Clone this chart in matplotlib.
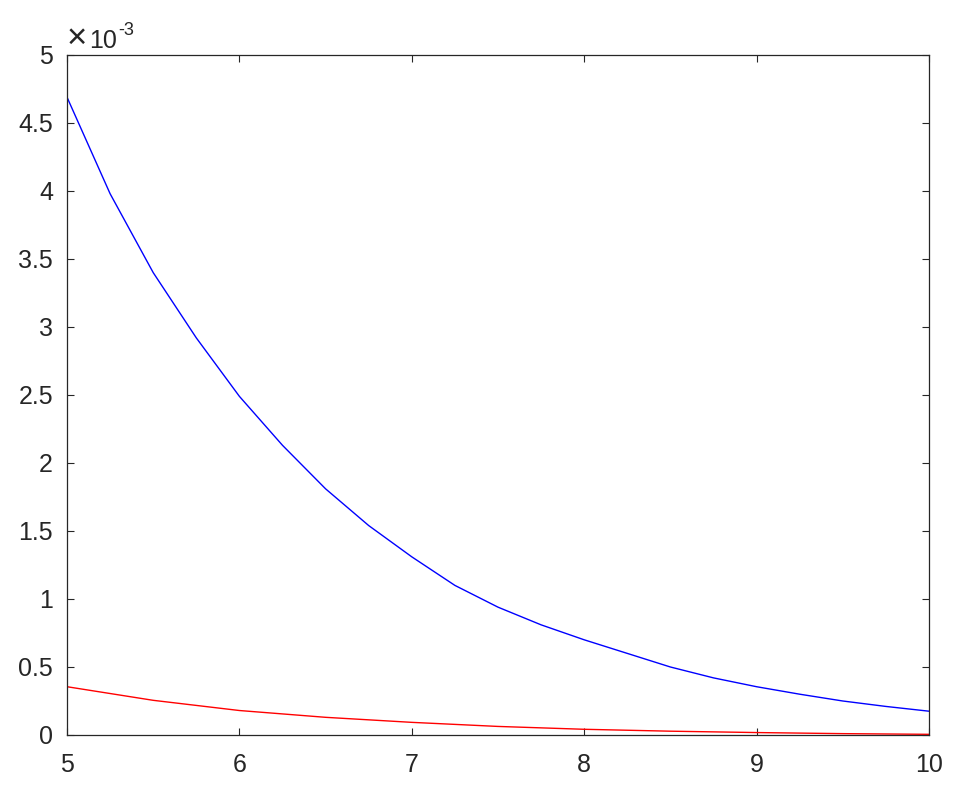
import numpy as np
import matplotlib
matplotlib.use("Agg")
import matplotlib.pyplot as plt
from matplotlib.ticker import FuncFormatter

# values (y in units of 1e-3)
x_blue = [5.00, 5.25, 5.50, 5.75, 6.00, 6.25, 6.50, 6.75, 7.00, 7.25, 7.50,
          7.75, 8.00, 8.25, 8.50, 8.75, 9.00, 9.25, 9.50, 9.75, 10.00]
y_blue = [4.69, 3.98, 3.40, 2.92, 2.49, 2.13, 1.81, 1.54, 1.31, 1.10, 0.94,
          0.81, 0.70, 0.60, 0.50, 0.42, 0.355, 0.30, 0.25, 0.21, 0.175]
x_red = [5.0, 5.5, 6.0, 6.5, 7.0, 7.5, 8.0, 8.5, 9.0, 9.5, 10.0]
y_red = [0.355, 0.255, 0.180, 0.130, 0.093, 0.063, 0.042, 0.028, 0.018, 0.010, 0.005]
xticks = [5, 6, 7, 8, 9, 10]
yticks = [0, 0.5, 1, 1.5, 2, 2.5, 3, 3.5, 4, 4.5, 5]

plt.rcParams["font.family"] = ["Liberation Sans", "DejaVu Sans"]
INK = "#262626"
W, H = 959, 798

fig = plt.figure(figsize=(W / 100, H / 100), dpi=100)
ax = fig.add_axes([67 / W, 1 - 735 / H, (929 - 67) / W, (735 - 55) / H])
ax.plot(x_blue, y_blue, color=(0, 0, 1), lw=1.0)
ax.plot(x_red, y_red, color=(1, 0, 0), lw=1.0)
ax.set_xlim(5, 10); ax.set_ylim(0, 5)
ax.set_xticks(xticks); ax.set_yticks(yticks)
ax.yaxis.set_major_formatter(FuncFormatter(lambda v, p: f"{v:g}"))
ax.tick_params(direction="in", length=5, width=0.8, colors=INK, labelsize=18,
               top=True, right=True)
ax.tick_params(axis="x", pad=13)
ax.tick_params(axis="y", pad=10)
for s in ax.spines.values():
    s.set_color(INK); s.set_linewidth(0.9)

# MATLAB-style exponent label: ×10^-3
fig.text(67 / W, 1 - 48 / H, "×", fontsize=25, color=INK, va="baseline", ha="left")
fig.text(89 / W, 1 - 48 / H, "10", fontsize=18, color=INK, va="baseline", ha="left")
fig.text(118 / W, 1 - 22 / H, "-3", fontsize=13, color=INK, va="top", ha="left")

fig.savefig("out.png", dpi=100, facecolor="white")
